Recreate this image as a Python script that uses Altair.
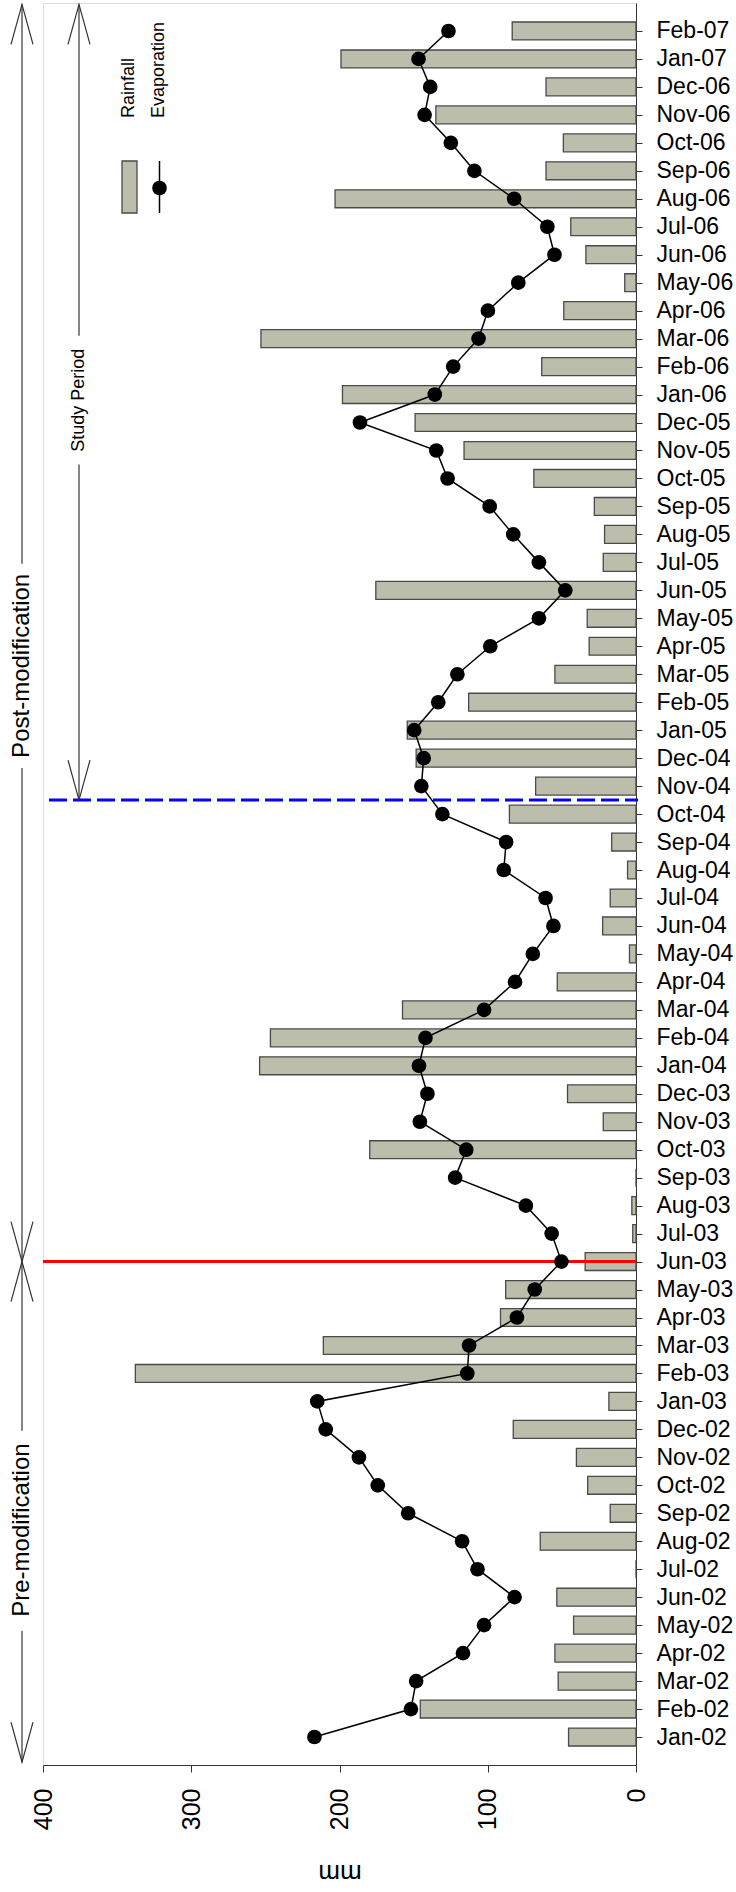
import altair as alt
import pandas as pd

# ---------------- data ----------------
months = [
    "Jan-02", "Feb-02", "Mar-02", "Apr-02", "May-02", "Jun-02", "Jul-02", "Aug-02", "Sep-02", "Oct-02", "Nov-02", "Dec-02",
    "Jan-03", "Feb-03", "Mar-03", "Apr-03", "May-03", "Jun-03", "Jul-03", "Aug-03", "Sep-03", "Oct-03", "Nov-03", "Dec-03",
    "Jan-04", "Feb-04", "Mar-04", "Apr-04", "May-04", "Jun-04", "Jul-04", "Aug-04", "Sep-04", "Oct-04", "Nov-04", "Dec-04",
    "Jan-05", "Feb-05", "Mar-05", "Apr-05", "May-05", "Jun-05", "Jul-05", "Aug-05", "Sep-05", "Oct-05", "Nov-05", "Dec-05",
    "Jan-06", "Feb-06", "Mar-06", "Apr-06", "May-06", "Jun-06", "Jul-06", "Aug-06", "Sep-06", "Oct-06", "Nov-06", "Dec-06",
    "Jan-07", "Feb-07",
]
rainfall = [
    45.5, 145.5, 52.5, 54.7, 42.1, 53.4, 0.0, 64.6, 17.4, 32.6, 40.2, 82.8,
    18.3, 337.7, 210.9, 91.4, 87.9, 34.3, 2.2, 2.8, 0.0, 179.6, 22.1, 46.2,
    253.9, 246.6, 157.5, 53.1, 4.4, 22.5, 17.4, 5.7, 16.4, 85.4, 67.7, 148.3,
    154.3, 112.9, 54.7, 31.6, 32.9, 175.5, 22.1, 21.2, 28.1, 68.9, 116.0, 149.0,
    198.0, 63.6, 253.0, 48.7, 7.6, 33.8, 44.0, 203.0, 60.7, 49.0, 135.0, 60.7,
    199.0, 83.5,
]
evaporation = [
    216.9, 151.8, 148.3, 116.7, 102.5, 81.9, 106.9, 117.3, 153.7, 174.2, 186.9, 209.3,
    215.0, 113.8, 112.6, 80.3, 68.3, 50.3, 56.9, 74.3, 122.0, 114.5, 145.8, 140.7,
    146.4, 142.0, 102.5, 81.6, 69.6, 55.7, 61.0, 89.2, 87.6, 130.6, 144.8, 143.2,
    149.6, 133.4, 120.5, 98.3, 65.5, 47.7, 65.5, 82.8, 98.7, 127.1, 134.7, 186.2,
    135.7, 123.3, 106.2, 99.9, 79.4, 55.0, 59.8, 82.2, 109.0, 124.9, 142.6, 138.8,
    146.7, 126.5,
]
x_ticks = [0, 100, 200, 300, 400]
modification_month = "Jun-03"
study_first_month = "Nov-04"

df = pd.DataFrame({
    "idx": list(range(len(months))),
    "month": months,
    "rain": rainfall,
    "evap": evaporation,
})

mod_idx = months.index(modification_month)
study_idx = months.index(study_first_month) - 0.5

# ---------------- layout ----------------
W, H = 593, 1762
FONT = "Liberation Sans"
BAR_FILL = "#BCBDAA"
BAR_STROKE = "#4a4a4a"
DARK = "#333333"

y_scale = alt.Scale(domain=[-1, 62], nice=False, zero=False)
x_scale = alt.Scale(domain=[0, 400], reverse=True, nice=False)

label_expr = "[" + ",".join("'" + m + "'" for m in months) + "][datum.value]"

x_axis = alt.Axis(
    values=x_ticks, labelAngle=270, labelFontSize=25, labelFlush=False, labelOverlap=False,
    tickSize=7, labelPadding=16, grid=False, domainColor=DARK, tickColor=DARK,
    labelColor="black", title="mm", titleAngle=180, titleFontSize=26,
    titleFontWeight="normal", titleX=W / 2, titleY=107, titleAlign="center",
    titleBaseline="middle", titleColor="black",
)
y_axis = alt.Axis(
    orient="right", values=list(range(len(months))), labelExpr=label_expr,
    labelFontSize=23, labelAlign="left", labelBaseline="middle", labelOverlap=False,
    labelSeparation=0, labelFlush=False, tickSize=6, labelPadding=14, grid=False,
    title=None, domainColor=DARK, tickColor=DARK, labelColor="black",
)


def Xq(field):
    return alt.X(field, scale=x_scale, axis=x_axis)


def Yq(field):
    return alt.Y(field, scale=y_scale, axis=y_axis)


bars = alt.Chart(df).transform_calculate(
    y0="datum.idx - 0.32", y1="datum.idx + 0.32", zero="0"
).mark_rect(fill=BAR_FILL, stroke=BAR_STROKE, strokeWidth=1.3).encode(
    x=Xq("rain:Q"), x2="zero:Q", y=Yq("y0:Q"), y2="y1:Q",
)

red = alt.Chart(pd.DataFrame({"y": [mod_idx]})).mark_rule(color="#ff0000", strokeWidth=3).encode(
    y=Yq("y:Q"), x=alt.value(0), x2=alt.value(W)
)
blue = alt.Chart(pd.DataFrame({"y": [study_idx]})).mark_rule(
    color="#0000ff", strokeWidth=3, strokeDash=[18, 6]
).encode(y=Yq("y:Q"), x=alt.value(6), x2=alt.value(W + 2))

line = alt.Chart(df).mark_line(color="black", strokeWidth=1.5).encode(
    x=Xq("evap:Q"), y=Yq("idx:Q"), order="idx:Q"
)
dots = alt.Chart(df).mark_circle(size=215, color="black", opacity=1).encode(
    x=Xq("evap:Q"), y=Yq("idx:Q")
)

# ---------------- period arrows (annotation) ----------------
OUT_X, STUDY_X = -21, 36
top_end, bot_end = 61.95, -0.9
segments = pd.DataFrame({
    "px": [OUT_X, OUT_X, OUT_X, OUT_X, STUDY_X, STUDY_X],
    "ya": [mod_idx, 41.95, bot_end, 10.95, study_idx, 50.1],
    "yb": [34.65, top_end, 3.8, mod_idx, 45.5, top_end],
})
UP = "M -0.275 1 L 0 0 L 0.275 1"
DOWN = "M -0.275 -1 L 0 0 L 0.275 -1"
heads = pd.DataFrame({
    "px": [OUT_X, OUT_X, OUT_X, OUT_X, STUDY_X, STUDY_X],
    "y": [top_end, mod_idx, mod_idx, bot_end, top_end, study_idx],
    "shape": [UP, DOWN, UP, DOWN, UP, DOWN],
})
labels = pd.DataFrame({
    "px": [OUT_X, OUT_X, STUDY_X],
    "y": [38.3, 7.4, 47.8],
    "text": ["Post-modification", "Pre-modification", "Study Period"],
    "fs": [24, 24, 18],
})

seg_layer = alt.Chart(segments).mark_rule(color=DARK, strokeWidth=1.2).encode(
    x=alt.X("px:Q", scale=None), y=Yq("ya:Q"), y2="yb:Q"
)
head_layer = alt.Chart(heads).mark_point(filled=False, size=6400, strokeWidth=1.2, color=DARK, opacity=1).encode(
    x=alt.X("px:Q", scale=None), y=Yq("y:Q"), shape=alt.Shape("shape:N", scale=None)
)
label_layer = alt.Chart(labels).mark_text(angle=270, align="center", baseline="middle", color="black", font=FONT).encode(
    x=alt.X("px:Q", scale=None), y=Yq("y:Q"), text="text:N", size=alt.Size("fs:Q", scale=None)
)

# ---------------- manual legend ----------------
one = pd.DataFrame({"k": [0]})
leg_rect = alt.Chart(one).mark_rect(fill=BAR_FILL, stroke=BAR_STROKE, strokeWidth=1.3).encode(
    x=alt.value(79), x2=alt.value(94), y=alt.value(158), y2=alt.value(210)
)
leg_line = alt.Chart(one).mark_rule(color="black", strokeWidth=1.5).encode(
    x=alt.value(116.5), y=alt.value(158), y2=alt.value(210)
)
leg_dot = alt.Chart(one).mark_circle(size=215, color="black", opacity=1).encode(
    x=alt.value(116.5), y=alt.value(185)
)
leg_text = alt.Chart(pd.DataFrame({"t": ["Rainfall", "Evaporation"], "px": [86, 115.5]})).mark_text(
    angle=270, align="left", baseline="middle", fontSize=18, color="black", font=FONT
).encode(x=alt.X("px:Q", scale=None), y=alt.value(115), text="t:N")

chart = alt.layer(
    bars, red, blue, line, dots, seg_layer, head_layer, label_layer,
    leg_rect, leg_line, leg_dot, leg_text,
).properties(
    width=W, height=H,
    padding={"left": 43, "top": 3, "right": 100, "bottom": 127},
    autosize=alt.AutoSizeParams(type="none"),
).configure_view(
    stroke=DARK, strokeWidth=1.5
).configure_axis(
    labelOverlap=False
).configure(
    font=FONT, background="white"
)

chart.save("out.html", embed_options={"renderer": "svg", "actions": False})
